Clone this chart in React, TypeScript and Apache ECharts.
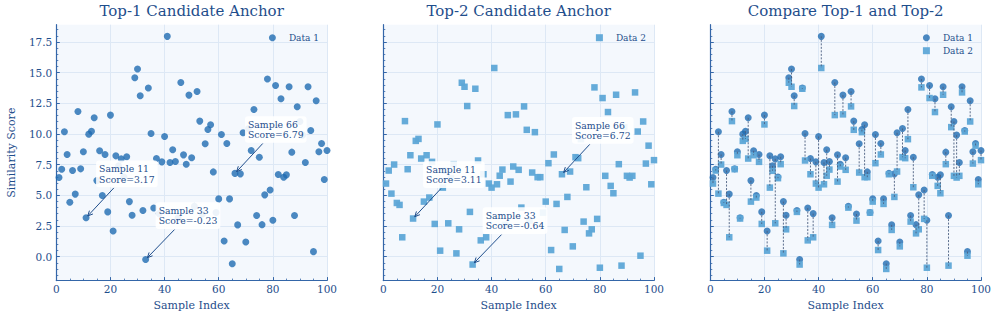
import React, { useEffect, useRef } from 'react';
import * as echarts from 'echarts';

const sampleIndex = [
  1, 2, 3, 4, 5, 6, 7, 8, 9, 10, 11, 12, 13, 14, 15, 16, 17, 18, 19, 20,
  21, 22, 23, 24, 25, 26, 27, 28, 29, 30, 31, 32, 33, 34, 35, 36, 37, 38, 39, 40,
  41, 42, 43, 44, 45, 46, 47, 48, 49, 50, 51, 52, 53, 54, 55, 56, 57, 58, 59, 60,
  61, 62, 63, 64, 65, 66, 67, 68, 69, 70, 71, 72, 73, 74, 75, 76, 77, 78, 79, 80,
  81, 82, 83, 84, 85, 86, 87, 88, 89, 90, 91, 92, 93, 94, 95, 96, 97, 98, 99, 100,
];

const data1 = [
  6.45, 7.13, 10.18, 8.33, 4.44, 7.02, 5.1, 11.84, 7.16, 8.55,
  3.17, 9.99, 10.23, 11.32, 6.2, 8.63, 4.98, 8.33, 3.65, 11.54,
  2.1, 8.22, 7.4, 7.97, 6.5, 8.14, 4.49, 3.38, 14.59, 15.3,
  13.12, 3.76, -0.23, 13.75, 10.04, 3.97, 8.0, 3.51, 7.73, 9.8,
  17.96, 7.68, 8.71, 7.76, 3.18, 14.2, 8.3, 7.54, 13.17, 8.06,
  4.1, 13.47, 11.05, 3.48, 9.2, 10.37, 10.75, 6.91, 3.6, 4.71,
  9.96, 1.28, 9.23, 4.71, -0.57, 6.79, 2.59, 6.75, 10.1, 1.2,
  10.45, 8.66, 12.0, 3.35, 8.11, 2.61, 5.04, 14.48, 5.44, 2.97,
  13.96, 6.7, 12.87, 6.48, 6.67, 13.85, 8.52, 3.35, 12.22, 11.02,
  9.91, 7.68, 13.85, 10.29, 0.41, 12.71, 8.55, 9.23, 6.29, 8.66,
];

const data2 = [
  5.96, 7.02, 5.14, 7.51, 4.38, 4.22, 1.58, 11.05, 7.13, 8.27,
  3.11, 9.44, 9.6, 8.0, 4.49, 8.27, 4.82, 7.73, 2.67, 10.78,
  0.49, 5.63, 7.0, 2.72, 6.4, 7.54, 0.27, 2.23, 14.18, 13.85,
  12.28, 3.65, -0.64, 13.69, 7.84, 1.33, 6.72, 1.58, 5.96, 5.63,
  15.38, 5.9, 6.6, 7.1, 2.59, 11.54, 6.12, 7.35, 11.6, 7.08,
  4.0, 12.25, 10.34, 2.94, 6.86, 10.15, 6.48, 6.48, 3.59, 4.49,
  7.62, 0.54, 8.33, 4.3, -1.0, 6.72, 2.18, 4.87, 6.94, 0.84,
  8.11, 8.03, 9.58, 2.86, 5.66, 1.9, 2.23, 13.8, 3.08, -0.9,
  12.93, 6.59, 11.79, 5.77, 5.17, 13.2, 7.54, -0.73, 10.56, 6.59,
  6.45, 6.59, 13.39, 10.2, 0.08, 11.02, 7.59, 9.05, 5.9, 7.87,
];

const annotatedSamples = [11, 33, 66];
const panelTitles = ['Top-1 Candidate Anchor', 'Top-2 Candidate Anchor', 'Compare Top-1 and Top-2'];
const seriesNames = ['Data 1', 'Data 2'];
const xMajorTicks = [0, 20, 40, 60, 80, 100];
const xMinorTicks = [5, 10, 15, 25, 30, 35, 45, 50, 55, 65, 70, 75, 85, 90, 95];
const yMajorTicks = [0, 2.5, 5, 7.5, 10, 12.5, 15, 17.5];
const yMinorTicks = [
  -1.5, -1, -0.5, 0.5, 1, 1.5, 2, 3, 3.5, 4, 4.5, 5.5, 6, 6.5, 7, 8, 8.5, 9, 9.5,
  10.5, 11, 11.5, 12, 13, 13.5, 14, 14.5, 15.5, 16, 16.5, 17, 18, 18.5,
];

const FONT = '"DejaVu Serif", serif';
const TEXT = '#1f4e8c';
const AXIS = '#3466a8';
const GRIDC = '#dde8f5';
const BG = '#f4f8fd';
const C1 = '#1f6cb1';
const C2 = '#5da6d7';
const DASH = '#4a5e80';
const SQUARE_ICON = 'path://M0,0L10,0L10,10L0,10Z';

const GRID_LEFTS = [56.3, 383.3, 710.3];
const GRID_W = 270.7;
const GRID_TOP = 24.7;
const GRID_H = 255.9;
const Y_MIN = -1.95;
const Y_MAX = 18.91;

function buildOption(): any {
  const grids = GRID_LEFTS.map((l) => ({
    left: l, top: GRID_TOP, width: GRID_W, height: GRID_H,
    show: true, backgroundColor: BG, borderWidth: 0,
  }));
  const xAxes: any[] = [];
  const yAxes: any[] = [];
  GRID_LEFTS.forEach((_, i) => {
    xAxes.push({
      type: 'value', gridIndex: i, min: 0, max: 100, position: 'bottom',
      axisLine: { show: true, onZero: false, lineStyle: { color: AXIS, width: 1.2 } },
      axisTick: { show: true, inside: true, length: 3.5, customValues: xMajorTicks, lineStyle: { color: AXIS, width: 1 } },
      axisLabel: { show: true, customValues: xMajorTicks, fontFamily: FONT, fontSize: 10.5, color: TEXT, margin: 3 },
      splitLine: { show: true, lineStyle: { color: GRIDC, width: 1 } },
      name: 'Sample Index', nameLocation: 'middle', nameGap: 15.5,
      nameTextStyle: { fontFamily: FONT, fontSize: 11, color: TEXT },
    });
    xAxes.push({
      type: 'value', gridIndex: i, min: 0, max: 100, position: 'bottom',
      axisLine: { show: false, onZero: false },
      axisTick: { show: true, inside: true, length: 2, customValues: xMinorTicks, lineStyle: { color: AXIS, width: 0.8 } },
      axisLabel: { show: false }, splitLine: { show: false },
    });
    yAxes.push({
      type: 'value', gridIndex: i, min: Y_MIN, max: Y_MAX, position: 'left',
      axisLine: { show: true, onZero: false, lineStyle: { color: AXIS, width: 1.2 } },
      axisTick: { show: true, inside: true, length: 3.5, customValues: yMajorTicks, lineStyle: { color: AXIS, width: 1 } },
      axisLabel: {
        show: i === 0, customValues: yMajorTicks, fontFamily: FONT, fontSize: 10.5, color: TEXT, margin: 4,
        formatter: (v: number) => v.toFixed(1),
      },
      splitLine: { show: true, lineStyle: { color: GRIDC, width: 1 } },
      name: i === 0 ? 'Similarity Score' : '', nameLocation: 'middle', nameGap: 39,
      nameTextStyle: { fontFamily: FONT, fontSize: 11, color: TEXT },
    });
    yAxes.push({
      type: 'value', gridIndex: i, min: Y_MIN, max: Y_MAX, position: 'left',
      axisLine: { show: false, onZero: false },
      axisTick: { show: true, inside: true, length: 2, customValues: yMinorTicks, lineStyle: { color: AXIS, width: 0.8 } },
      axisLabel: { show: false }, splitLine: { show: false },
    });
  });

  const pts1 = sampleIndex.map((x, i) => [x, data1[i]]);
  const pts2 = sampleIndex.map((x, i) => [x, data2[i]]);
  const circle = { symbol: 'circle', symbolSize: 7, itemStyle: { color: C1 } };
  const square = { symbol: 'rect', symbolSize: 6.5, itemStyle: { color: C2, opacity: 0.95 } };

  const series: any[] = [
    { type: 'scatter', name: seriesNames[0], xAxisIndex: 0, yAxisIndex: 0, data: pts1, ...circle, z: 3 },
    { type: 'scatter', name: seriesNames[1], xAxisIndex: 2, yAxisIndex: 2, data: pts2, ...square, z: 3 },
    { type: 'scatter', name: seriesNames[0], xAxisIndex: 4, yAxisIndex: 4, data: pts1, ...circle, z: 3 },
    { type: 'scatter', name: seriesNames[1], xAxisIndex: 4, yAxisIndex: 4, data: pts2, ...square, z: 4 },
    {
      type: 'custom', xAxisIndex: 4, yAxisIndex: 4, z: 5, silent: true,
      data: sampleIndex.map((x, i) => [x, data1[i], data2[i]]),
      encode: { x: 0, y: [1, 2] },
      renderItem: (_params: any, api: any) => {
        const a = api.coord([api.value(0), api.value(1)]);
        const b = api.coord([api.value(0), api.value(2)]);
        return {
          type: 'line',
          shape: { x1: a[0], y1: a[1], x2: b[0], y2: b[1] },
          style: { stroke: DASH, lineWidth: 1, lineDash: [2, 1.5], opacity: 0.9 },
        };
      },
    },
  ];

  const legendCommon = {
    orient: 'vertical', padding: 0, itemWidth: 7, itemHeight: 7, itemGap: 4,
    selectedMode: false, symbolKeepAspect: true,
    textStyle: { fontFamily: FONT, fontSize: 9, color: TEXT, lineHeight: 9, padding: [0, 0, 0, 8] },
  };
  const legendLefts = GRID_LEFTS.map((l) => l + GRID_W - 54.6 - 3.5);
  const legend = [
    { ...legendCommon, left: legendLefts[0], top: 33.2, data: [{ name: seriesNames[0], icon: 'circle' }] },
    { ...legendCommon, left: legendLefts[1], top: 33.2, data: [{ name: seriesNames[1], icon: SQUARE_ICON }] },
    {
      ...legendCommon, left: legendLefts[2], top: 33.2,
      data: [{ name: seriesNames[0], icon: 'circle' }, { name: seriesNames[1], icon: SQUARE_ICON }],
    },
  ];

  const title = panelTitles.map((t, i) => ({
    text: t, left: GRID_LEFTS[i] + GRID_W / 2, top: 3.5, textAlign: 'center', padding: 0,
    textStyle: { fontFamily: FONT, fontSize: 15, fontWeight: 'normal', color: TEXT },
  }));

  return {
    animation: false,
    backgroundColor: '#ffffff',
    title, legend, grid: grids, xAxis: xAxes, yAxis: yAxes, series,
  };
}

function buildAnnotations(chart: any): any[] {
  const els: any[] = [];
  const annFont = '9.3px "DejaVu Serif"';
  const canvas = document.createElement('canvas');
  const ctx = canvas.getContext('2d')!;
  ctx.font = annFont;
  const padX = 3;
  const padY = 3;
  const lineH = 10.3;
  [data1, data2].forEach((vals, p) => {
    annotatedSamples.forEach((s) => {
      const idx = sampleIndex.indexOf(s);
      const v = vals[idx];
      const [px, py] = chart.convertToPixel({ xAxisIndex: p * 2, yAxisIndex: p * 2 }, [s, v]);
      const lines = [`Sample ${s}`, `Score=${v.toFixed(2)}`];
      const tw = Math.max(...lines.map((l) => ctx.measureText(l).width));
      const w = tw + 2 * padX;
      const h = 2 * lineH + 2 * padY;
      const bx = px + 10;
      const by = py - 57.2;
      els.push({
        type: 'rect', z: 100,
        shape: { x: bx, y: by, width: w, height: h, r: 3 },
        style: { fill: '#ffffff', opacity: 0.9, stroke: 'none' },
      });
      els.push({
        type: 'text', z: 101,
        style: {
          text: lines.join('\n'), x: bx + padX, y: by + padY, font: annFont,
          fill: TEXT, textAlign: 'left', textVerticalAlign: 'top', lineHeight: lineH,
        },
      });
      const cx = bx + w / 2;
      const cy = by + h / 2;
      const dx = px - cx;
      const dy = py - cy;
      const len = Math.sqrt(dx * dx + dy * dy);
      const ux = dx / len;
      const uy = dy / len;
      const t0 = Math.min((w / 2) / Math.abs(dx), (h / 2) / Math.abs(dy));
      const sx = cx + dx * t0 + ux * 1;
      const sy = cy + dy * t0 + uy * 1;
      const ex = px - ux * 2.5;
      const ey = py - uy * 2.5;
      els.push({
        type: 'line', z: 102,
        shape: { x1: sx, y1: sy, x2: ex, y2: ey },
        style: { stroke: TEXT, lineWidth: 1 },
      });
      const hl = 5;
      const hw = 2.4;
      const bxh = ex - ux * hl;
      const byh = ey - uy * hl;
      els.push({
        type: 'polyline', z: 102,
        shape: { points: [[bxh - uy * hw, byh + ux * hw], [ex, ey], [bxh + uy * hw, byh - ux * hw]] },
        style: { stroke: TEXT, lineWidth: 1, fill: 'none' },
      });
    });
  });
  return els;
}

export default function App() {
  const ref = useRef<HTMLDivElement>(null);
  useEffect(() => {
    const el = ref.current!;
    const chart = echarts.init(el, null, { renderer: 'svg' });
    chart.setOption(buildOption());
    chart.setOption({ graphic: { elements: buildAnnotations(chart) } });
    return () => chart.dispose();
  }, []);
  return (
    <div
      ref={ref}
      style={{ position: 'fixed', left: 0, top: 0, width: 997, height: 316, background: '#ffffff' }}
    />
  );
}
